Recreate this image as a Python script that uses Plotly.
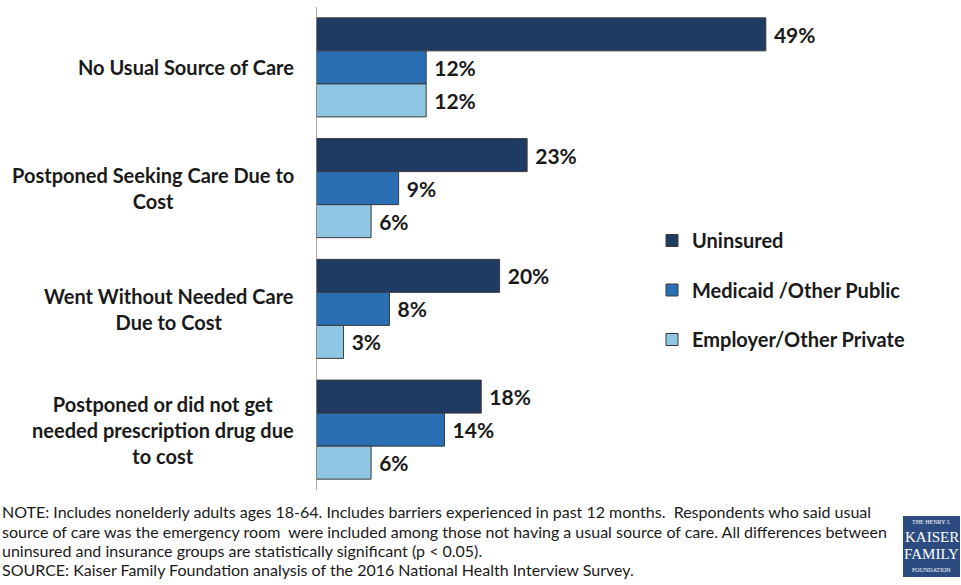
import plotly.graph_objects as go

categories = [
    "No Usual Source of Care",
    "Postponed Seeking Care Due to<br>Cost",
    "Went Without Needed Care<br>Due to Cost",
    "Postponed or did not get<br>needed prescription drug due<br>to cost",
]
cat_keys = ["c1", "c2", "c3", "c4"]
series_names = ["Uninsured", "Medicaid /Other Public", "Employer/Other Private"]
uninsured = [49, 23, 20, 18]
medicaid = [12, 9, 8, 14]
employer = [12, 6, 3, 6]
colors = ["#1f3a63", "#2a6fb4", "#8ec6e4"]

notes = [
    "NOTE: Includes nonelderly adults ages 18-64. Includes barriers experienced in past 12 months.  Respondents who said usual",
    "source of care was the emergency room  were included among those not having a usual source of care. All differences between",
    "uninsured and insurance groups are statistically significant (p < 0.05).",
    "SOURCE: Kaiser Family Foundation analysis of the 2016 National Health Interview Survey.",
]

W, H = 961, 585
L, R, T, B = 316, 140, 7, 95
PW, PH = W - L - R, H - T - B
FONT = "Lato"

def px(x):
    return (x - L) / PW

def py(y):
    return 1 - (y - T) / PH

fig = go.Figure()
for name, vals, col in zip(series_names, [uninsured, medicaid, employer], colors):
    fig.add_trace(go.Bar(
        y=cat_keys, x=vals, name=name, orientation="h",
        marker=dict(color=col, line=dict(color="#3a3a3a", width=1)),
        text=[f" {v}%" for v in vals], textposition="outside",
        textfont=dict(family=FONT, size=21, color="#1a1a1a", weight="bold"),
        cliponaxis=False, legendgroup=name,
    ))

annotations = []
for key, lab in zip(cat_keys, categories):
    annotations.append(dict(
        x=px(296), xref="paper", y=key, yref="y", text=lab, showarrow=False,
        xanchor="right", align="center",
        font=dict(family=FONT, size=20, color="#1a1a1a", weight="bold"),
    ))

note_y = [511, 531, 550, 569]
for t, yy in zip(notes, note_y):
    annotations.append(dict(
        x=px(0), xref="paper", y=py(yy), yref="paper", text=t, showarrow=False,
        xanchor="left", yanchor="middle", align="left",
        font=dict(family=FONT, size=16, color="#1a1a1a"),
    ))

# logo
shapes = [dict(type="rect", xref="paper", yref="paper",
               x0=px(903), x1=px(960), y0=py(577), y1=py(516),
               fillcolor="#2c4b80", line=dict(width=0))]
logo_lines = [("THE HENRY J.", 6, 522), ("KAISER", 15, 537), ("FAMILY", 15, 554), ("FOUNDATION", 6, 570)]
for t, s, yy in logo_lines:
    annotations.append(dict(
        x=px(931.5), xref="paper", y=py(yy), yref="paper", text=t, showarrow=False,
        xanchor="center", yanchor="middle", borderpad=0,
        font=dict(family="Liberation Serif", size=s, color="white"),
    ))

fig.update_layout(
    width=W, height=H,
    margin=dict(l=L, r=R, t=T, b=B),
    paper_bgcolor="white", plot_bgcolor="white",
    barmode="group", bargap=0.18, bargroupgap=0,
    xaxis=dict(range=[0, PW / 9.18], visible=False),
    yaxis=dict(categoryorder="array", categoryarray=cat_keys, autorange="reversed",
               showticklabels=False, showgrid=False, zeroline=False,
               showline=False, ticks=""),
    legend=dict(x=px(652), y=py(221), xanchor="left", yanchor="top",
                xref="paper", yref="paper", tracegroupgap=20.5,
                font=dict(family=FONT, size=20, color="#1a1a1a", weight="bold"),
                bgcolor="rgba(0,0,0,0)"),
    annotations=annotations, shapes=shapes + [
        dict(type="line", xref="x", yref="paper", x0=0, x1=0, y0=0, y1=1,
             line=dict(color="#8c8c8c", width=1.5))
    ],
    showlegend=True,
)

fig.write_html("out.html")
